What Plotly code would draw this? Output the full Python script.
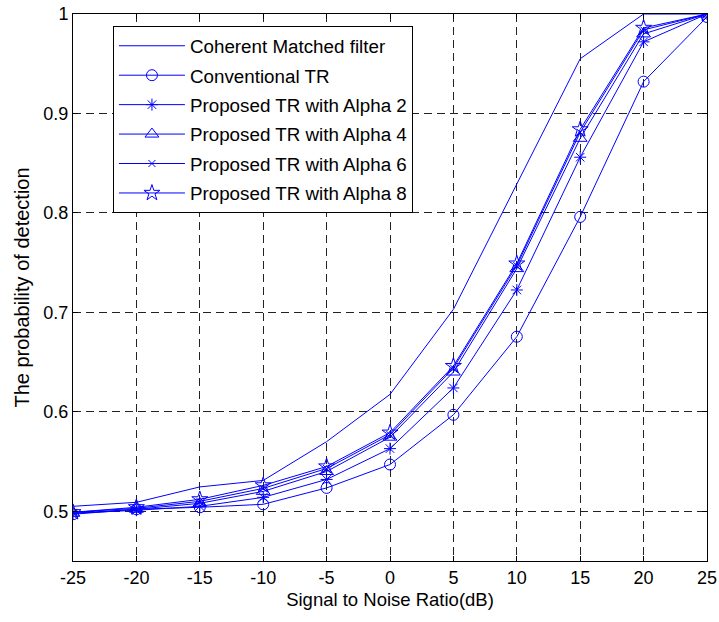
import plotly.graph_objects as go

snr = [-25, -20, -15, -10, -5, 0, 5, 10, 15, 20, 25]
coherent_mf = [0.505, 0.509, 0.5245, 0.531, 0.570, 0.6175, 0.703, 0.829, 0.955, 1.0, 1.0]
conventional_tr = [0.497, 0.502, 0.504, 0.507, 0.5235, 0.547, 0.597, 0.6755, 0.796, 0.932, 0.997]
alpha2 = [0.498, 0.501, 0.505, 0.514, 0.532, 0.563, 0.624, 0.7225, 0.856, 0.972, 1.0]
alpha4 = [0.498, 0.502, 0.508, 0.520, 0.540, 0.5745, 0.640, 0.744, 0.875, 0.980, 1.0]
alpha6 = [0.499, 0.503, 0.510, 0.523, 0.543, 0.577, 0.644, 0.747, 0.881, 0.984, 1.0]
alpha8 = [0.499, 0.504, 0.512, 0.526, 0.545, 0.579, 0.646, 0.749, 0.884, 0.986, 1.0]

names = ["Coherent Matched filter", "Conventional TR", "Proposed TR with Alpha 2",
         "Proposed TR with Alpha 4", "Proposed TR with Alpha 6", "Proposed TR with Alpha 8"]
series = [coherent_mf, conventional_tr, alpha2, alpha4, alpha6, alpha8]
symbols = [None, "circle-open", "asterisk-open", "triangle-up-open", "x-thin-open", "star-open"]
sizes = [0, 11, 10, 12, 7, 12]

BLUE = "#0000FF"
FONT = "Liberation Sans, Arial, sans-serif"

fig = go.Figure()
for i, (nm, ys, sym, sz) in enumerate(zip(names, series, symbols, sizes)):
    if sym is None:
        fig.add_trace(go.Scatter(x=snr, y=ys, name=nm, mode="lines",
                                 line=dict(color=BLUE, width=1),
                                 legendgroup=str(i)))
    else:
        fig.add_trace(go.Scatter(x=snr, y=ys, name=nm, mode="lines+markers",
                                 line=dict(color=BLUE, width=1),
                                 marker=dict(symbol=sym, size=sz, color=BLUE,
                                             line=dict(color=BLUE, width=1)),
                                 legendgroup=str(i)))

axis_common = dict(
    showline=True, linecolor="black", linewidth=1, mirror="allticks",
    ticks="inside", ticklen=5, tickcolor="black", automargin=False,
    showgrid=True, gridcolor="#222222", gridwidth=1, griddash="8px,5px",
    zeroline=False, tickfont=dict(family=FONT, size=18, color="black"),
)

fig.update_xaxes(range=[-25, 25], tickmode="array", tickvals=snr,
                 ticktext=[str(v) for v in snr],
                 title=dict(text="Signal to Noise Ratio(dB)",
                            font=dict(family=FONT, size=18.5, color="black"),
                            standoff=6),
                 **axis_common)
fig.update_yaxes(range=[0.45, 1.0], tickmode="array",
                 tickvals=[0.5, 0.6, 0.7, 0.8, 0.9, 1.0],
                 ticktext=["0.5", "0.6", "0.7", "0.8", "0.9", "1"],
                 title=dict(text="The probability of detection",
                            font=dict(family=FONT, size=20, color="black"),
                            standoff=8),
                 **axis_common)

fig.update_layout(
    width=719, height=622,
    margin=dict(l=73, r=12, t=14, b=61),
    paper_bgcolor="white", plot_bgcolor="white",
    font=dict(family=FONT, size=18, color="black"),
    showlegend=True,
    legend=dict(x=0.063, y=0.978, xanchor="left", yanchor="top",
                bgcolor="white", bordercolor="black", borderwidth=1,
                font=dict(family=FONT, size=18.8, color="black"),
                itemwidth=66, traceorder="grouped", tracegroupgap=2),
)

fig.write_html("out.html")
